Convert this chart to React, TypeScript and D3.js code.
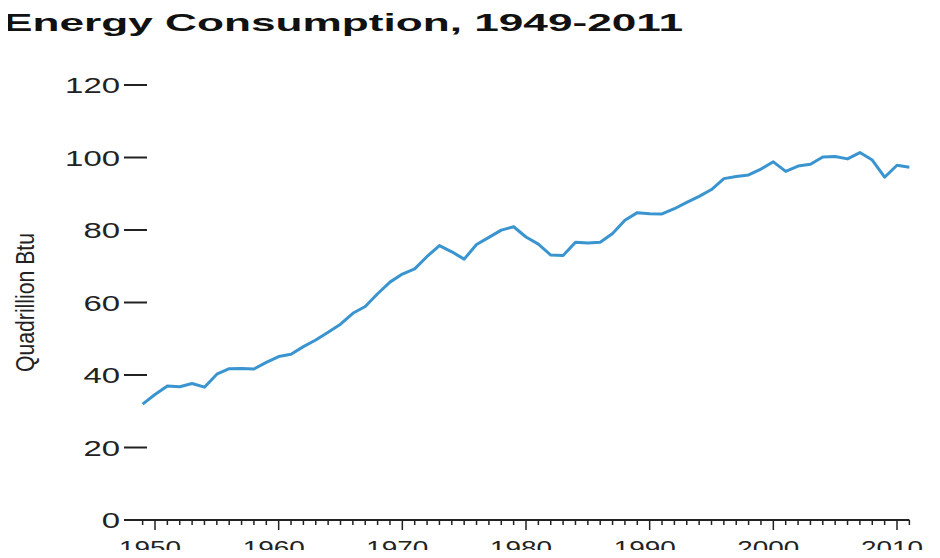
import React, { useEffect, useRef } from "react";
import * as d3 from "d3";

// US primary energy consumption, quadrillion Btu
const years = [
  1949, 1950, 1951, 1952, 1953, 1954, 1955, 1956, 1957, 1958, 1959, 1960,
  1961, 1962, 1963, 1964, 1965, 1966, 1967, 1968, 1969, 1970, 1971, 1972,
  1973, 1974, 1975, 1976, 1977, 1978, 1979, 1980, 1981, 1982, 1983, 1984,
  1985, 1986, 1987, 1988, 1989, 1990, 1991, 1992, 1993, 1994, 1995, 1996,
  1997, 1998, 1999, 2000, 2001, 2002, 2003, 2004, 2005, 2006, 2007, 2008,
  2009, 2010, 2011,
];
const consumption = [
  31.98, 34.62, 36.97, 36.75, 37.66, 36.64, 40.21, 41.75, 41.79, 41.65, 43.47,
  45.09, 45.74, 47.83, 49.65, 51.82, 54.02, 57.02, 58.91, 62.42, 65.62, 67.84,
  69.29, 72.7, 75.71, 73.99, 71.97, 75.98, 77.96, 79.96, 80.9, 78.07, 76.11,
  73.1, 72.97, 76.63, 76.39, 76.64, 79.05, 82.7, 84.79, 84.49, 84.44, 85.87,
  87.6, 89.26, 91.17, 94.17, 94.76, 95.18, 96.82, 98.81, 96.17, 97.65, 98.13,
  100.16, 100.28, 99.62, 101.36, 99.29, 94.56, 97.86, 97.3,
];
const yTicks = [0, 20, 40, 60, 80, 100, 120];
const xLabelYears = [1950, 1960, 1970, 1980, 1990, 2000, 2010];

const title = "Energy Consumption, 1949-2011";
const yTitle = "Quadrillion Btu";

export default function App() {
  const ref = useRef<HTMLDivElement | null>(null);

  useEffect(() => {
    if (!ref.current) return;
    d3.select(ref.current).selectAll("svg").remove();

    const x = d3.scaleLinear([1950, 2010], [155, 897]);
    const y = d3.scaleLinear([0, 120], [520, 85]);
    const font = "'Liberation Sans', Arial, sans-serif";

    const svg = d3
      .select(ref.current)
      .append("svg")
      .attr("width", 940)
      .attr("height", 558)
      .style("display", "block")
      .style("font-family", font);

    svg
      .append("text")
      .attr("x", 3)
      .attr("y", 31)
      .attr("font-size", 24)
      .attr("font-weight", "bold")
      .attr("fill", "#111")
      .attr("textLength", 680)
      .attr("lengthAdjust", "spacingAndGlyphs")
      .text(title);

    // y axis: ticks only, labels to the left
    const gy = svg.append("g");
    gy.selectAll("line")
      .data(yTicks)
      .enter()
      .append("line")
      .attr("x1", 124)
      .attr("x2", 147)
      .attr("y1", (d) => y(d))
      .attr("y2", (d) => y(d))
      .attr("stroke", "#222")
      .attr("stroke-width", 2);
    gy.selectAll("text")
      .data(yTicks)
      .enter()
      .append("text")
      .attr("x", 120)
      .attr("y", (d) => y(d) + 8)
      .attr("text-anchor", "end")
      .attr("font-size", 22)
      .attr("fill", "#222")
      .attr("textLength", (d) => String(d).length * 18.3)
      .attr("lengthAdjust", "spacingAndGlyphs")
      .text((d) => d);

    svg
      .append("text")
      .attr(
        "transform",
        `translate(34,${y(60)}) scale(1.4,1) rotate(-90)`
      )
      .attr("text-anchor", "middle")
      .attr("font-size", 19)
      .attr("fill", "#222")
      .attr("textLength", 139)
      .attr("lengthAdjust", "spacingAndGlyphs")
      .text(yTitle);

    // x axis: line, yearly minor ticks, decade major ticks
    const gx = svg.append("g");
    gx.append("line")
      .attr("x1", x(1947.6))
      .attr("x2", x(2011))
      .attr("y1", y(0))
      .attr("y2", y(0))
      .attr("stroke", "#222")
      .attr("stroke-width", 2);
    gx.selectAll("line.tick")
      .data(years)
      .enter()
      .append("line")
      .attr("class", "tick")
      .attr("x1", (d) => x(d))
      .attr("x2", (d) => x(d))
      .attr("y1", y(0))
      .attr("y2", (d) => y(0) + (d % 10 === 0 ? 10 : 5))
      .attr("stroke", "#222")
      .attr("stroke-width", 1.5);
    gx.selectAll("text")
      .data(xLabelYears)
      .enter()
      .append("text")
      .attr("x", (d) => x(d) - 5)
      .attr("y", 555)
      .attr("text-anchor", "middle")
      .attr("font-size", 21)
      .attr("fill", "#222")
      .attr("textLength", 62)
      .attr("lengthAdjust", "spacingAndGlyphs")
      .text((d) => d);

    const line = d3
      .line<number>()
      .x((d, i) => x(years[i]))
      .y((d) => y(d));

    svg
      .append("path")
      .datum(consumption)
      .attr("d", line)
      .attr("fill", "none")
      .attr("stroke", "#3a94cf")
      .attr("stroke-width", 3)
      .attr("stroke-linejoin", "round");
  }, []);

  return <div ref={ref} style={{ margin: -8 }}></div>;
}
